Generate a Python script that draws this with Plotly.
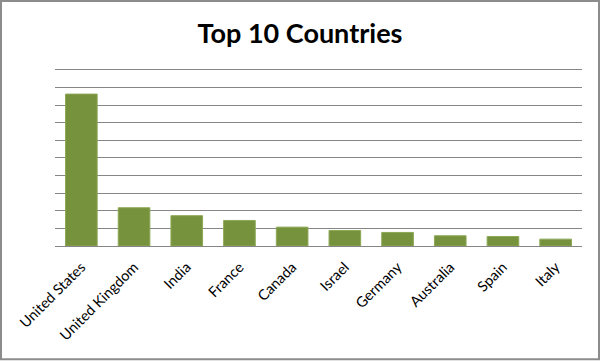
import plotly.graph_objects as go

countries = ["United States", "United Kingdom", "India", "France", "Canada",
             "Israel", "Germany", "Australia", "Spain", "Italy"]
values = [8.62, 2.17, 1.72, 1.45, 1.07, 0.88, 0.77, 0.58, 0.54, 0.39]

W, H = 600, 361
ml, mr, mt, mb = 55, 18, 68.2, 114.5
pw, ph = W - ml - mr, H - mt - mb

fig = go.Figure(go.Bar(
    x=countries, y=values,
    marker=dict(color="#76923C", line=dict(color="#8DA856", width=1)),
    width=0.6,
))

fig.update_layout(
    width=W, height=H,
    margin=dict(l=ml, r=mr, t=mt, b=mb),
    paper_bgcolor="white", plot_bgcolor="white",
    title=dict(text="<b>Top 10 Countries</b>", x=0.5, xanchor="center",
               y=1 - 34 / H, yanchor="middle", yref="container",
               font=dict(family="Lato", size=27, color="black")),
    font=dict(family="Lato", size=14, color="black"),
    xaxis=dict(tickangle=-45, showline=True, linecolor="#868686", linewidth=1,
               ticks="", showgrid=False, tickfont=dict(size=14.5),
               ticklabelstandoff=6),
    yaxis=dict(range=[0, 10.1], tick0=0, dtick=1, showgrid=True,
               gridcolor="#868686", gridwidth=1, showticklabels=False,
               zeroline=False, ticks=""),
    showlegend=False,
    bargap=0.4,
    shapes=[dict(type="rect", xref="paper", yref="paper",
                 x0=(1 - ml) / pw, x1=(W - 1 - ml) / pw,
                 y0=-(mb - 1) / ph, y1=(H - 1 - mb) / ph,
                 line=dict(color="#8C8C8C", width=2), layer="above")],
)

fig.write_html("out.html")
